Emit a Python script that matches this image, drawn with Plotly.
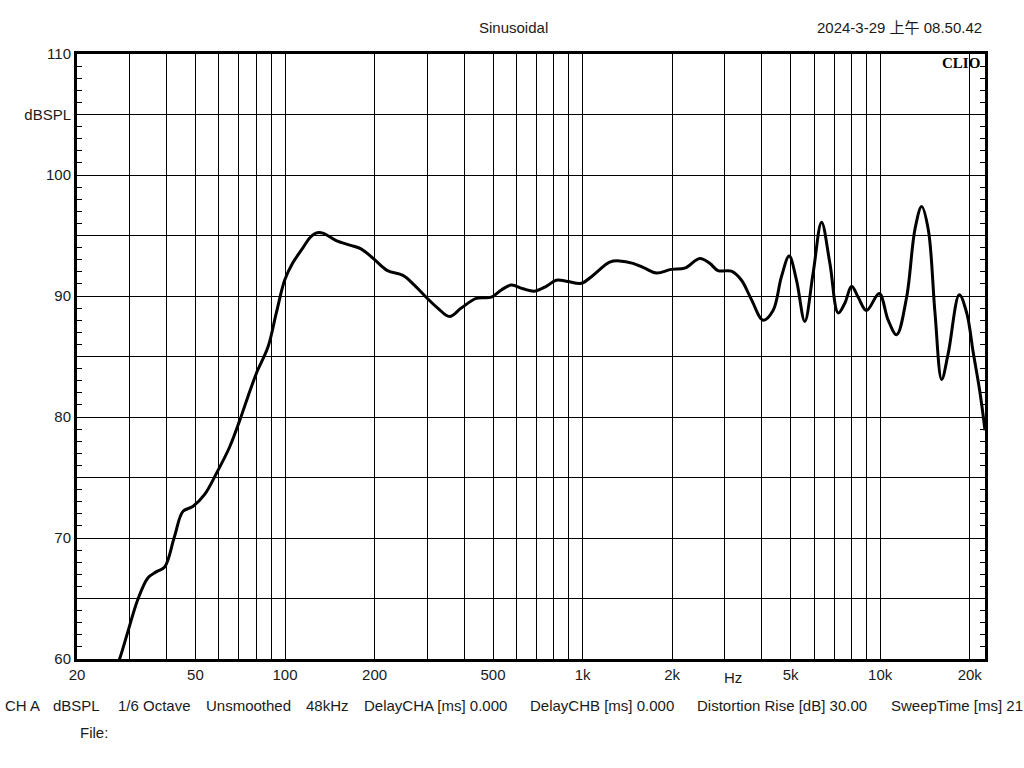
import math
import plotly.graph_objects as go

# ---- data ----
freq_hz = [27.0, 27.8, 29.6, 32.0, 34.6, 36.9, 39.4, 42.5, 45.4, 49.0, 53.7, 58.7, 65.1, 70.4,
           75.1, 80.1, 87.7, 93.5, 99.7, 106.0, 115.0, 121.0, 127.0, 134.0, 148.0, 165.0,
           180.0, 200.0, 221.0, 249.0, 272.0, 298.0, 326.0, 357.0, 391.0, 439.0, 493.0,
           533.0, 576.0, 630.0, 689.0, 755.0, 815.0, 892.0, 990.0, 1083.0, 1233.0, 1332.0,
           1477.0, 1617.0, 1770.0, 1987.0, 2204.0, 2475.0, 2674.0, 2851.0, 3162.0, 3419.0,
           3694.0, 4041.0, 4366.0, 4658.0, 4944.0, 5234.0, 5580.0, 5952.0, 6353.0, 6776.0,
           7226.0, 7604.0, 8014.0, 8433.0, 8996.0, 9924.0, 10637.0, 11352.0, 12269.0,
           13083.0, 13780.0, 14506.0, 15280.0, 16090.0, 16940.0, 18440.0, 19530.0, 20550.0,
           21650.0, 22500.0]
spl_db = [59.2, 60.0, 62.2, 64.9, 66.7, 67.2, 67.6, 70.1, 72.2, 72.6, 73.6, 75.3, 77.5, 79.7,
          81.7, 83.6, 85.8, 88.6, 91.3, 92.7, 94.0, 94.8, 95.2, 95.2, 94.6, 94.2,
          93.9, 93.0, 92.1, 91.7, 90.9, 89.9, 89.0, 88.3, 89.0, 89.8, 89.9,
          90.5, 90.9, 90.6, 90.4, 90.8, 91.3, 91.2, 91.05, 91.7, 92.8, 92.9,
          92.7, 92.3, 91.9, 92.2, 92.3, 93.1, 92.7, 92.1, 92.05, 91.3,
          89.7, 88.0, 88.8, 91.6, 93.3, 91.3, 87.9, 91.9, 96.1, 92.7,
          88.6, 89.4, 90.8, 89.9, 88.8, 90.2, 88.0, 86.8, 89.9,
          95.5, 97.4, 95.5, 88.6, 83.1, 85.3, 90.1, 88.6, 85.3,
          82.0, 78.9]

x_grid = [20, 30, 40, 50, 60, 70, 80, 90, 100, 200, 300, 400, 500, 600, 700, 800, 900,
          1000, 2000, 3000, 4000, 5000, 6000, 7000, 8000, 9000, 10000, 20000]
x_labels = {20: "20", 50: "50", 100: "100", 200: "200", 500: "500", 1000: "1k",
            2000: "2k", 5000: "5k", 10000: "10k", 20000: "20k"}
y_grid = [60, 65, 70, 75, 80, 85, 90, 95, 100, 105, 110]
y_labels = {60: "60", 70: "70", 80: "80", 90: "90", 100: "100", 105: "dBSPL", 110: "110"}

title_text = "Sinusoidal"
date_text = "2024-3-29 上午 08.50.42"
footer_items = [("CH A", 3), ("dBSPL", 51), ("1/6 Octave", 116), ("Unsmoothed", 204),
                ("48kHz", 304), ("DelayCHA [ms] 0.000", 362), ("DelayCHB [ms] 0.000", 528),
                ("Distortion Rise [dB] 30.00", 695), ("SweepTime [ms] 21", 889)]

# ---- layout geometry ----
W, H = 1024, 768
L, R, T, B = 77, 985, 54, 659
FONT = "Liberation Sans, Arial, sans-serif"
TXT = "#1a1a1a"


def px(xp):
    return (xp - L) / (R - L)


def py(yp):
    return (B - yp) / (B - T)


fig = go.Figure()
fig.add_trace(go.Scatter(x=freq_hz, y=spl_db, mode="lines",
                         line=dict(color="black", width=3, shape="spline", smoothing=1.0),
                         hoverinfo="skip", showlegend=False))

fig.update_xaxes(type="log", range=[math.log10(20), math.log10(22500)],
                 tickmode="array", tickvals=x_grid,
                 ticktext=[x_labels.get(v, "") for v in x_grid],
                 showgrid=True, gridcolor="black", gridwidth=1,
                 showline=True, linecolor="black", linewidth=3, mirror=True,
                 ticks="", zeroline=False,
                 tickfont=dict(family=FONT, size=15, color=TXT))
fig.update_yaxes(range=[60, 110], tickmode="array", tickvals=y_grid,
                 ticktext=[y_labels.get(v, "") for v in y_grid],
                 showgrid=True, gridcolor="black", gridwidth=1,
                 showline=True, linecolor="black", linewidth=3, mirror="ticks",
                 ticks="inside", ticklen=5, tickcolor="black", tickwidth=1,
                 minor=dict(tickmode="linear", tick0=60, dtick=1, ticks="inside",
                            ticklen=5, tickcolor="black", tickwidth=1, showgrid=False),
                 zeroline=False,
                 tickfont=dict(family=FONT, size=15, color=TXT))

ann = []
ann.append(dict(text=title_text, x=px(513), y=py(27), xref="paper", yref="paper",
                xanchor="center", yanchor="middle", showarrow=False,
                font=dict(family=FONT, size=15, color=TXT)))
ann.append(dict(text=date_text, x=px(984), y=py(27), xref="paper", yref="paper",
                xanchor="right", yanchor="middle", showarrow=False,
                font=dict(family=FONT + ", Noto Sans CJK SC", size=15, color=TXT)))
ann.append(dict(text="<b>CLIO</b>", x=px(982), y=py(63.5), xref="paper", yref="paper",
                xanchor="right", yanchor="middle", showarrow=False,
                font=dict(family="Liberation Serif, Times New Roman, serif", size=15, color="black")))
ann.append(dict(text="Hz", x=px(733), y=py(677), xref="paper", yref="paper",
                xanchor="center", yanchor="middle", showarrow=False,
                font=dict(family=FONT, size=15, color=TXT)))
for txt, xl in footer_items:
    ann.append(dict(text=txt, x=px(xl), y=py(705), xref="paper", yref="paper",
                    xanchor="left", yanchor="middle", showarrow=False,
                    font=dict(family=FONT, size=15, color=TXT)))
ann.append(dict(text="File:", x=px(78), y=py(732), xref="paper", yref="paper",
                xanchor="left", yanchor="middle", showarrow=False,
                font=dict(family=FONT, size=15, color=TXT)))

fig.update_layout(width=W, height=H, autosize=False,
                  margin=dict(l=L, r=W - R, t=T, b=H - B, pad=0),
                  paper_bgcolor="white", plot_bgcolor="white",
                  annotations=ann, showlegend=False)

fig.write_html("out.html", config={"displayModeBar": False},
               post_script="document.body.style.margin='0';document.body.style.overflow='hidden';")
